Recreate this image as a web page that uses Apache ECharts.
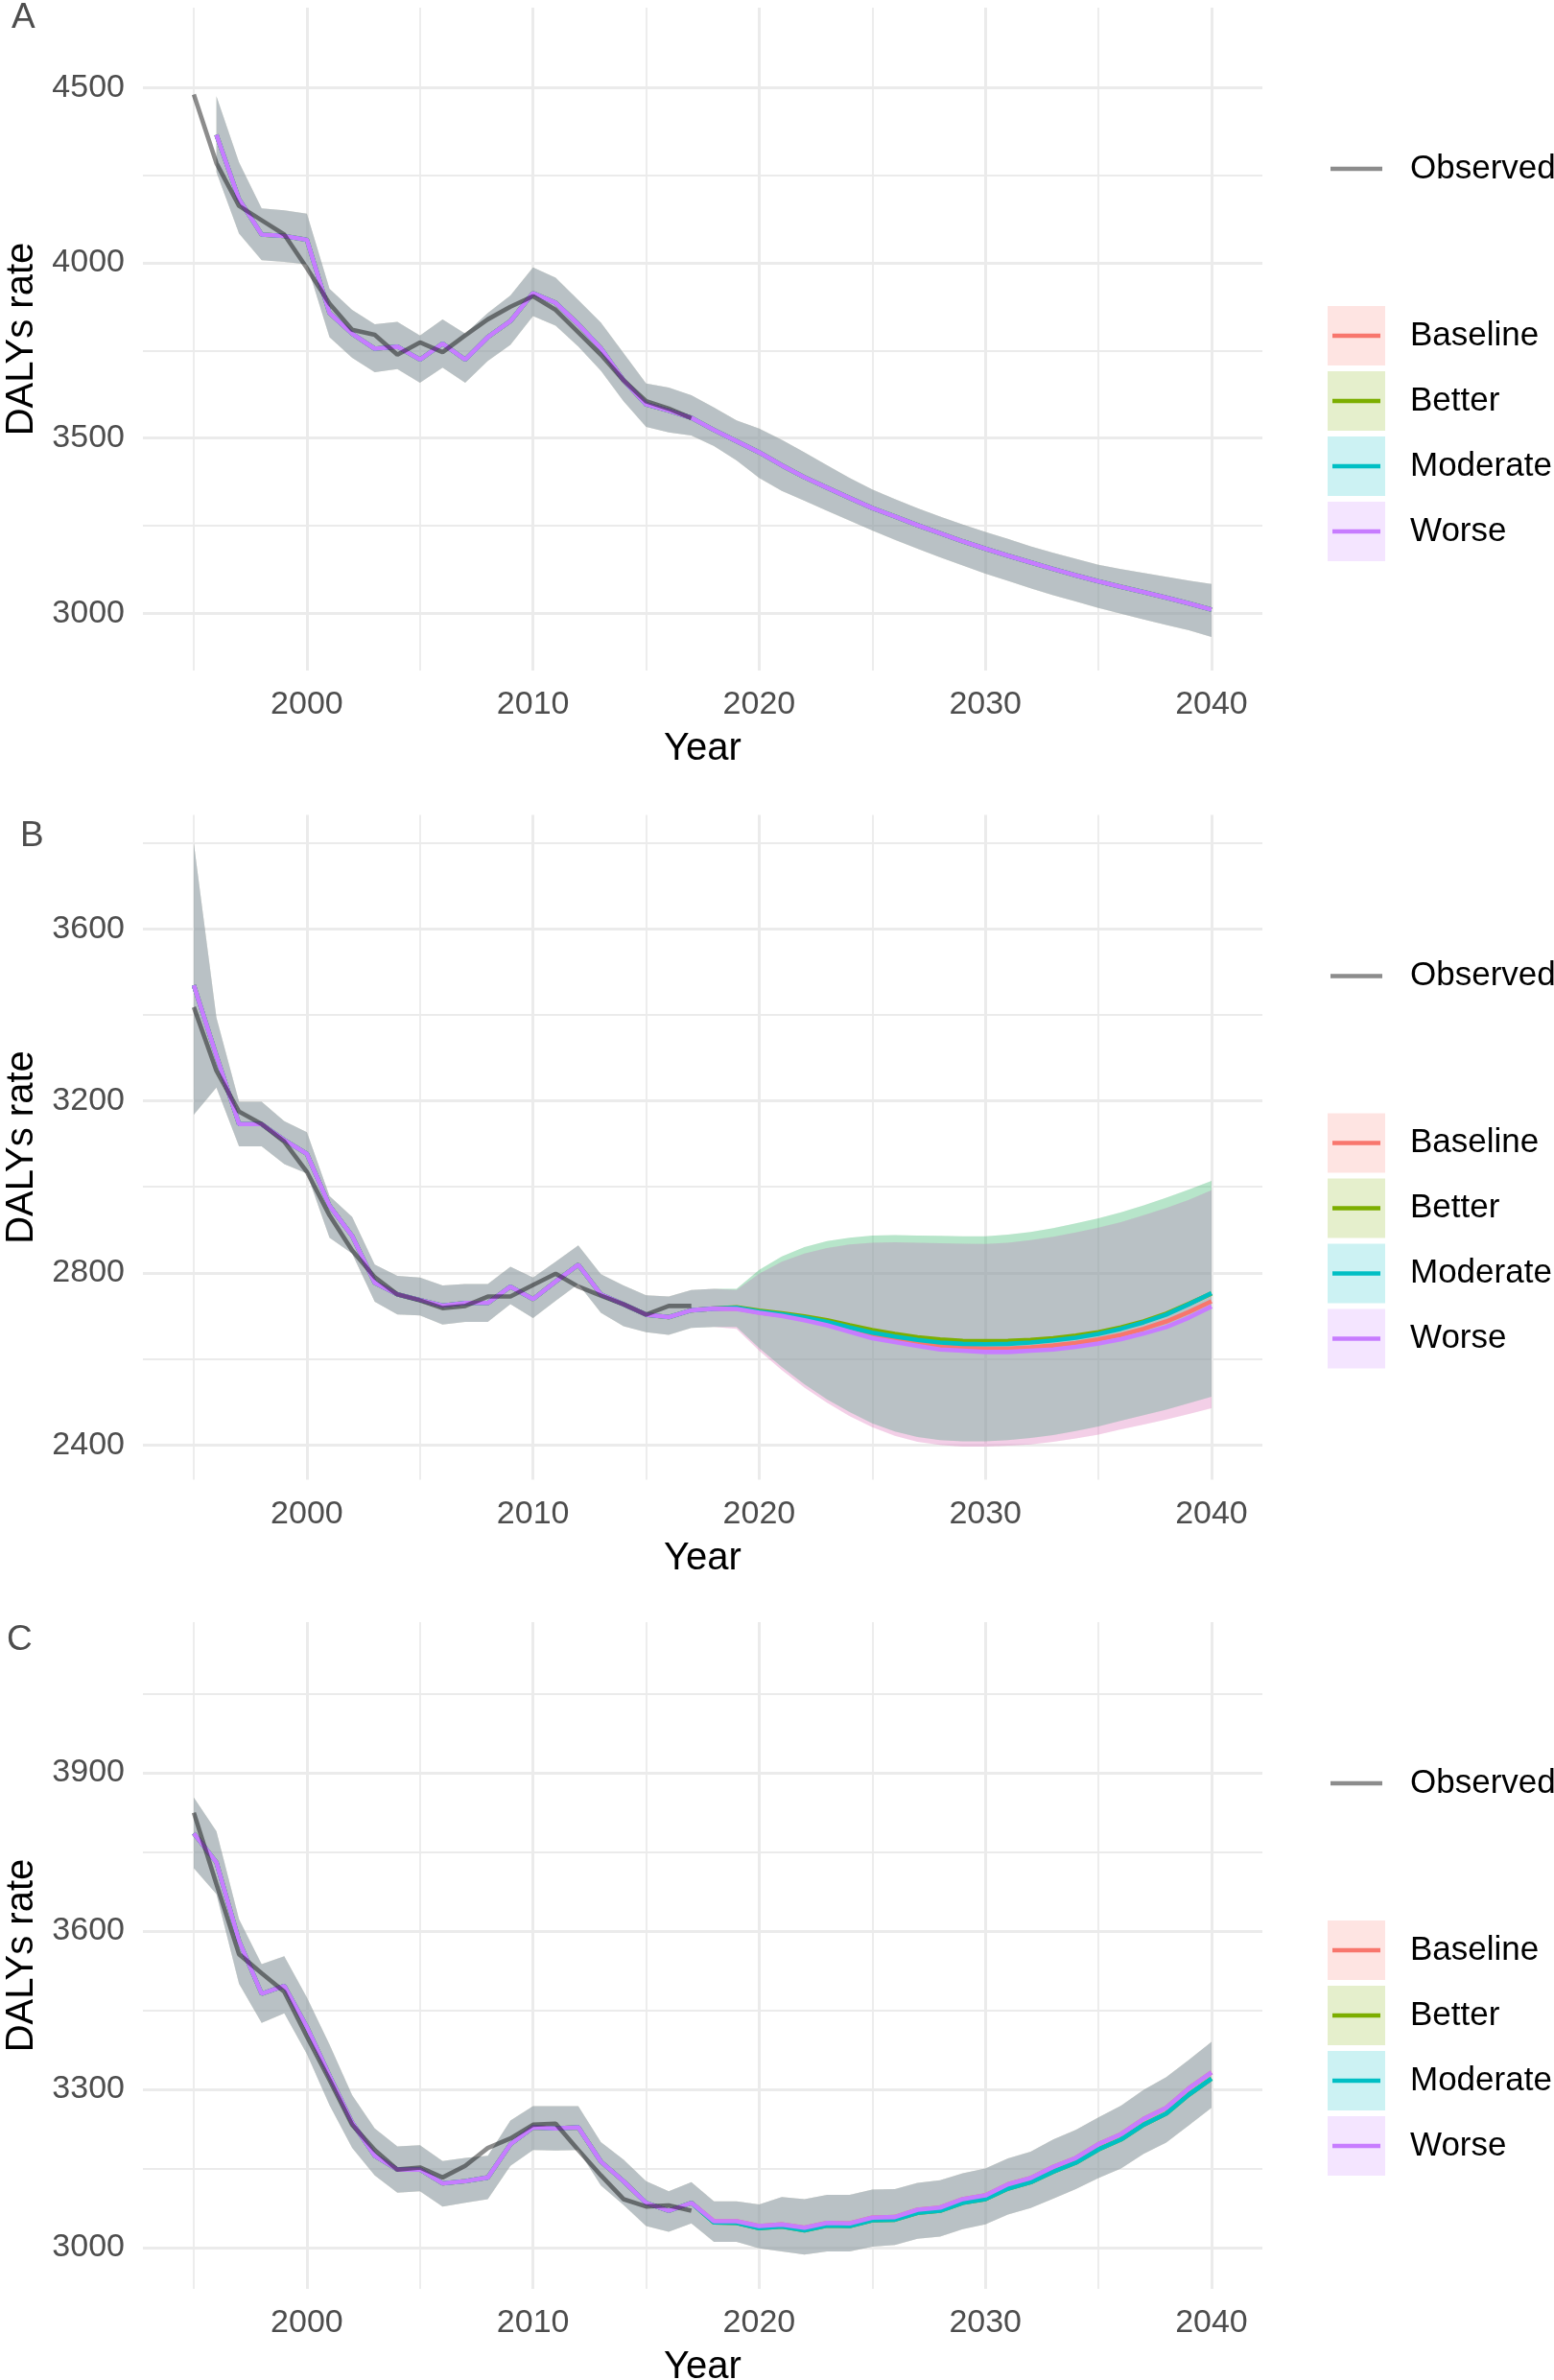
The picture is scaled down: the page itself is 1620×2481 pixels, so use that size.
<!DOCTYPE html>
<html>
<head>
<meta charset="utf-8">
<script src="https://cdn.jsdelivr.net/npm/echarts@6/dist/echarts.min.js"></script>
<style>
html,body{margin:0;padding:0;background:#ffffff;}
#chart{width:1620px;height:2481px;}
</style>
</head>
<body>
<div id="chart"></div>
<script>
// ---------------- DATA ----------------
const YEARS = [1995,1996,1997,1998,1999,2000,2001,2002,2003,2004,2005,2006,2007,2008,2009,2010,
  2011,2012,2013,2014,2015,2016,2017,2018,2019,2020,2021,2022,2023,2024,2025,2026,2027,2028,2029,2030,
  2031,2032,2033,2034,2035,2036,2037,2038,2039,2040];
const SCENARIOS = ['Baseline','Better','Moderate','Worse'];
const X_TICKS = [2000,2010,2020,2030,2040];
const X_MINOR = [1995,2005,2015,2025,2035];

// Panel A
const A_yTicks = [3000,3500,4000,4500];
const A_yMinor = [3250,3750,4250];
const A_observed = [4481,4285,4163,4122,4081,3985,3884,3809,3795,3738,3773,3745,3793,3839,3875,3905,3866,3802,3738,3665,3605,3584,3557]; // 1995-2017
const A_fitted = [4366,4182,4081,4077,4066,3857,3798,3755,3761,3724,3770,3724,3788,3834,3914,3886,3825,3756,3665,3596,3578,3558,
  3523,3491,3459,3422,3388,3358,3329,3300,3276,3251,3228,3205,3184,3164,3145,3126,3108,3091,3075,3060,3044,3028,3010]; // 1996-2040
const A_upper = [4476,4287,4156,4150,4141,3926,3866,3825,3832,3793,3839,3798,3857,3907,3987,3958,3894,3830,3743,3656,3644,3622,
  3587,3550,3527,3495,3459,3422,3386,3353,3326,3300,3276,3253,3232,3212,3191,3172,3155,3138,3126,3115,3104,3093,3083]; // 1996-2040
const A_lower = [4259,4084,4008,4003,3996,3788,3729,3688,3697,3658,3701,3658,3720,3766,3848,3821,3761,3692,3605,3532,3516,3507,
  3477,3436,3386,3349,3321,3292,3264,3236,3209,3184,3159,3136,3113,3092,3071,3051,3033,3015,2998,2982,2966,2951,2932]; // 1996-2040

// Panel B
const B_yTicks = [2400,2800,3200,3600];
const B_yMinor = [2600,3000,3400,3800];
const B_observed = [3418,3270,3175,3146,3105,3035,2934,2852,2790,2750,2736,2718,2723,2745,2745,2772,2798,2768,2747,2727,2703,2723,2723]; // 1995-2017
const B_fittedHist = [3469,3305,3146,3146,3109,3077,2956,2886,2777,2750,2737,2724,2730,2730,2768,2739,2780,2819,2750,2727,2703,2697,2713,2717]; // 1995-2018
const B_upperHist = [3799,3394,3198,3198,3153,3127,2979,2930,2819,2793,2789,2771,2774,2774,2814,2789,2826,2864,2797,2771,2748,2745,2760,2763]; // 1995-2018
const B_lowerHist = [3168,3231,3094,3094,3053,3031,2882,2845,2733,2703,2701,2680,2686,2686,2727,2695,2735,2774,2707,2676,2662,2656,2672,2674]; // 1995-2018
// projections 2019-2040
const B_baseline = [2717,2708,2701,2692,2681,2667,2654,2645,2636,2629,2626,2624,2624,2627,2631,2637,2645,2656,2670,2687,2709,2734];
const B_better   = [2720,2712,2706,2699,2690,2678,2667,2658,2650,2645,2642,2641,2642,2644,2648,2654,2662,2673,2687,2705,2728,2752];
const B_moderate = [2719,2710,2704,2696,2686,2673,2661,2652,2644,2638,2635,2634,2635,2638,2643,2649,2658,2670,2685,2703,2727,2753];
const B_worse    = [2716,2707,2700,2690,2678,2663,2648,2639,2630,2622,2619,2616,2616,2619,2622,2628,2636,2646,2659,2674,2696,2722];
const B_upperBetter = [2763,2807,2838,2860,2874,2882,2887,2888,2887,2886,2885,2885,2889,2895,2904,2915,2927,2941,2957,2975,2994,3014];
const B_upperWorse  = [2760,2798,2826,2845,2858,2866,2870,2871,2870,2869,2868,2867,2870,2876,2884,2894,2905,2918,2934,2951,2970,2992];
const B_lowerBetter = [2674,2625,2581,2541,2506,2476,2450,2431,2418,2411,2408,2408,2411,2416,2423,2432,2443,2456,2469,2482,2497,2512];
const B_lowerWorse  = [2670,2619,2574,2533,2498,2467,2441,2421,2407,2400,2396,2396,2398,2401,2407,2415,2424,2436,2447,2459,2472,2485];

// Panel C
const C_yTicks = [3000,3300,3600,3900];
const C_yMinor = [3150,3450,3750,4050];
const C_observed = [3824,3689,3556,3520,3485,3400,3318,3233,3185,3148,3152,3133,3155,3189,3207,3233,3235,3185,3137,3092,3078,3080,3070]; // 1995-2017
const C_fittedHist = [3785,3730,3581,3481,3496,3418,3326,3237,3174,3148,3148,3122,3126,3133,3196,3228,3226,3228,3163,3126,3085,3070,3085]; // 1995-2017
const C_upperHist = [3853,3789,3622,3537,3552,3474,3385,3289,3226,3192,3194,3164,3170,3174,3241,3268,3268,3268,3200,3167,3126,3107,3124];
const C_lowerHist = [3719,3670,3500,3426,3444,3367,3270,3189,3137,3104,3107,3078,3085,3092,3155,3185,3184,3185,3118,3081,3041,3030,3046];
// projections 2018-2040
const C_worse    = [3050,3050,3041,3044,3038,3047,3046,3057,3058,3072,3076,3092,3099,3120,3132,3153,3170,3196,3215,3244,3265,3302,3332];
const C_moderate = [3048,3047,3037,3040,3033,3042,3041,3052,3053,3066,3070,3085,3092,3112,3124,3144,3161,3186,3205,3233,3254,3290,3320];
const C_upper    = [3088,3088,3082,3096,3092,3100,3100,3110,3111,3123,3128,3141,3150,3169,3182,3205,3223,3247,3269,3299,3323,3356,3390];
const C_lower    = [3011,3011,2999,2993,2987,2993,2993,3002,3005,3017,3021,3035,3044,3063,3075,3093,3111,3132,3150,3178,3199,3232,3265];

// ---------------- BUILD ----------------
function seg(start, arr) {
  const i0 = YEARS.indexOf(start);
  return arr.map((v, i) => [YEARS[i0 + i], v]);
}
const COLORS = {Baseline:'#F8766D', Better:'#7CAE00', Moderate:'#00BFC4', Worse:'#C77CFF'};
const RIBBON_ALPHA = 0.2;
function rgba(hex, a) {
  const n = parseInt(hex.slice(1), 16);
  return 'rgba(' + ((n >> 16) & 255) + ',' + ((n >> 8) & 255) + ',' + (n & 255) + ',' + a + ')';
}
const FONT = '"Liberation Sans", Arial, Helvetica, sans-serif';
const OBS_COLOR = 'rgba(0,0,0,0.45)';
const LINE_W = 4.6;

const panels = [
  {
    yMin: 2836, yMax: 4729, yTicks: A_yTicks, yMinor: A_yMinor,
    obs: seg(1995, A_observed),
    mid: {Baseline: seg(1996, A_fitted), Better: seg(1996, A_fitted), Moderate: seg(1996, A_fitted), Worse: seg(1996, A_fitted)},
    hi:  {Baseline: seg(1996, A_upper), Better: seg(1996, A_upper), Moderate: seg(1996, A_upper), Worse: seg(1996, A_upper)},
    lo:  {Baseline: seg(1996, A_lower), Better: seg(1996, A_lower), Moderate: seg(1996, A_lower), Worse: seg(1996, A_lower)}
  },
  {
    yMin: 2319, yMax: 3865, yTicks: B_yTicks, yMinor: B_yMinor,
    obs: seg(1995, B_observed),
    mid: {
      Baseline: seg(1995, B_fittedHist).concat(seg(2019, B_baseline)),
      Better:   seg(1995, B_fittedHist).concat(seg(2019, B_better)),
      Moderate: seg(1995, B_fittedHist).concat(seg(2019, B_moderate)),
      Worse:    seg(1995, B_fittedHist).concat(seg(2019, B_worse))
    },
    hi: {
      Baseline: seg(1995, B_upperHist).concat(seg(2019, B_upperWorse)),
      Better:   seg(1995, B_upperHist).concat(seg(2019, B_upperBetter)),
      Moderate: seg(1995, B_upperHist).concat(seg(2019, B_upperBetter)),
      Worse:    seg(1995, B_upperHist).concat(seg(2019, B_upperWorse))
    },
    lo: {
      Baseline: seg(1995, B_lowerHist).concat(seg(2019, B_lowerWorse)),
      Better:   seg(1995, B_lowerHist).concat(seg(2019, B_lowerBetter)),
      Moderate: seg(1995, B_lowerHist).concat(seg(2019, B_lowerBetter)),
      Worse:    seg(1995, B_lowerHist).concat(seg(2019, B_lowerWorse))
    }
  },
  {
    yMin: 2922, yMax: 4185, yTicks: C_yTicks, yMinor: C_yMinor,
    obs: seg(1995, C_observed),
    mid: {
      Baseline: seg(1995, C_fittedHist).concat(seg(2018, C_worse)),
      Better:   seg(1995, C_fittedHist).concat(seg(2018, C_moderate)),
      Moderate: seg(1995, C_fittedHist).concat(seg(2018, C_moderate)),
      Worse:    seg(1995, C_fittedHist).concat(seg(2018, C_worse))
    },
    hi: {
      Baseline: seg(1995, C_upperHist).concat(seg(2018, C_upper)),
      Better:   seg(1995, C_upperHist).concat(seg(2018, C_upper)),
      Moderate: seg(1995, C_upperHist).concat(seg(2018, C_upper)),
      Worse:    seg(1995, C_upperHist).concat(seg(2018, C_upper))
    },
    lo: {
      Baseline: seg(1995, C_lowerHist).concat(seg(2018, C_lower)),
      Better:   seg(1995, C_lowerHist).concat(seg(2018, C_lower)),
      Moderate: seg(1995, C_lowerHist).concat(seg(2018, C_lower)),
      Worse:    seg(1995, C_lowerHist).concat(seg(2018, C_lower))
    }
  }
];

const PANEL_TOPS = [8, 849.5, 1691];
const PANEL_H = [691, 693, 695];
const GRID_LEFT = 149, GRID_W = 1167;
const PANEL_STEP = 841.5;

const grids = [], xAxes = [], yAxes = [], series = [], graphics = [];
const GRID_COLOR = '#EBEBEB';
const plain = v => String(v);

panels.forEach((p, g) => {
  grids.push({left: GRID_LEFT, top: PANEL_TOPS[g], width: GRID_W, height: PANEL_H[g], containLabel: false, outerBoundsMode: 'none'});
  xAxes.push({
    type: 'value', gridIndex: g, min: 1992.75, max: 2042.25,
    axisLine: {show: false}, axisTick: {show: false}, splitLine: {show: false},
    axisLabel: {customValues: X_TICKS, formatter: plain, fontSize: 34, color: '#4D4D4D', fontFamily: FONT, margin: 19},
    name: 'Year', nameLocation: 'middle', nameGap: 62,
    nameTextStyle: {fontSize: 40, color: '#000', fontFamily: FONT}
  });
  yAxes.push({
    type: 'value', gridIndex: g, min: p.yMin, max: p.yMax,
    axisLine: {show: false}, axisTick: {show: false}, splitLine: {show: false},
    axisLabel: {customValues: p.yTicks, formatter: plain, fontSize: 34, color: '#4D4D4D', fontFamily: FONT, margin: 19},
    name: 'DALYs rate', nameLocation: 'middle', nameGap: 100,
    nameTextStyle: {fontSize: 40, color: '#000', fontFamily: FONT}
  });

  // grid lines (drawn beneath everything)
  const ml = [];
  X_MINOR.forEach(v => ml.push({xAxis: v, lineStyle: {width: 1.8, color: GRID_COLOR, type: 'solid'}}));
  p.yMinor.forEach(v => ml.push({yAxis: v, lineStyle: {width: 1.8, color: GRID_COLOR, type: 'solid'}}));
  X_TICKS.forEach(v => ml.push({xAxis: v, lineStyle: {width: 3, color: GRID_COLOR, type: 'solid'}}));
  p.yTicks.forEach(v => ml.push({yAxis: v, lineStyle: {width: 3, color: GRID_COLOR, type: 'solid'}}));
  series.push({
    type: 'line', xAxisIndex: g, yAxisIndex: g, data: [], silent: true, z: 0,
    markLine: {silent: true, z: 0, symbol: ['none', 'none'], label: {show: false}, animation: false, data: ml}
  });

  // ribbons (polygon through the axes' scales)
  SCENARIOS.forEach(s => {
    const lo = p.lo[s], hi = p.hi[s];
    const fill = rgba(COLORS[s], RIBBON_ALPHA);
    series.push({
      type: 'custom', xAxisIndex: g, yAxisIndex: g, silent: true, z: 2,
      data: hi.concat(lo), encode: {x: 0, y: 1},
      renderItem: function (params, api) {
        if (params.dataIndex !== 0) return null;
        const pts = hi.map(pt => api.coord(pt)).concat(lo.slice().reverse().map(pt => api.coord(pt)));
        return {type: 'polygon', shape: {points: pts}, style: {fill: fill, stroke: null}};
      }
    });
  });
  // scenario lines
  SCENARIOS.forEach(s => {
    series.push({
      type: 'line', xAxisIndex: g, yAxisIndex: g, data: p.mid[s], name: s,
      symbol: 'none', showSymbol: false, silent: true, z: 3,
      lineStyle: {color: COLORS[s], width: LINE_W}
    });
  });
  // observed
  series.push({
    type: 'line', xAxisIndex: g, yAxisIndex: g, data: p.obs, name: 'Observed',
    symbol: 'none', showSymbol: false, silent: true, z: 4,
    lineStyle: {color: OBS_COLOR, width: LINE_W}
  });

  // legend (drawn)
  const dy = PANEL_STEP * g;
  graphics.push({type: 'line', shape: {x1: 1387, y1: 176 + dy, x2: 1441, y2: 176 + dy}, style: {stroke: OBS_COLOR, lineWidth: LINE_W}});
  graphics.push({type: 'text', x: 1470, y: 176 + dy, style: {text: 'Observed', fontSize: 35, fontFamily: FONT, fill: '#000', align: 'left', verticalAlign: 'middle'}});
  SCENARIOS.forEach((s, k) => {
    const cy = 350 + 68 * k + dy;
    graphics.push({type: 'rect', shape: {x: 1384, y: cy - 31, width: 60, height: 62}, style: {fill: rgba(COLORS[s], RIBBON_ALPHA)}});
    graphics.push({type: 'line', shape: {x1: 1389, y1: cy, x2: 1439, y2: cy}, style: {stroke: COLORS[s], lineWidth: LINE_W}});
    graphics.push({type: 'text', x: 1470, y: cy, style: {text: s, fontSize: 35, fontFamily: FONT, fill: '#000', align: 'left', verticalAlign: 'middle'}});
  });
});

// panel tags
const TAGS = [['A', 12, 19], ['B', 21, 872], ['C', 7, 1710]];
TAGS.forEach(t => graphics.push({type: 'text', x: t[1], y: t[2], style: {text: t[0], fontSize: 37, fontFamily: FONT, fill: '#4D4D4D', align: 'left', verticalAlign: 'middle'}}));

const chart = echarts.init(document.getElementById('chart'), null, {renderer: 'canvas'});
chart.setOption({
  animation: false,
  backgroundColor: '#ffffff',
  grid: grids, xAxis: xAxes, yAxis: yAxes, series: series, graphic: graphics
});
</script>
</body>
</html>
